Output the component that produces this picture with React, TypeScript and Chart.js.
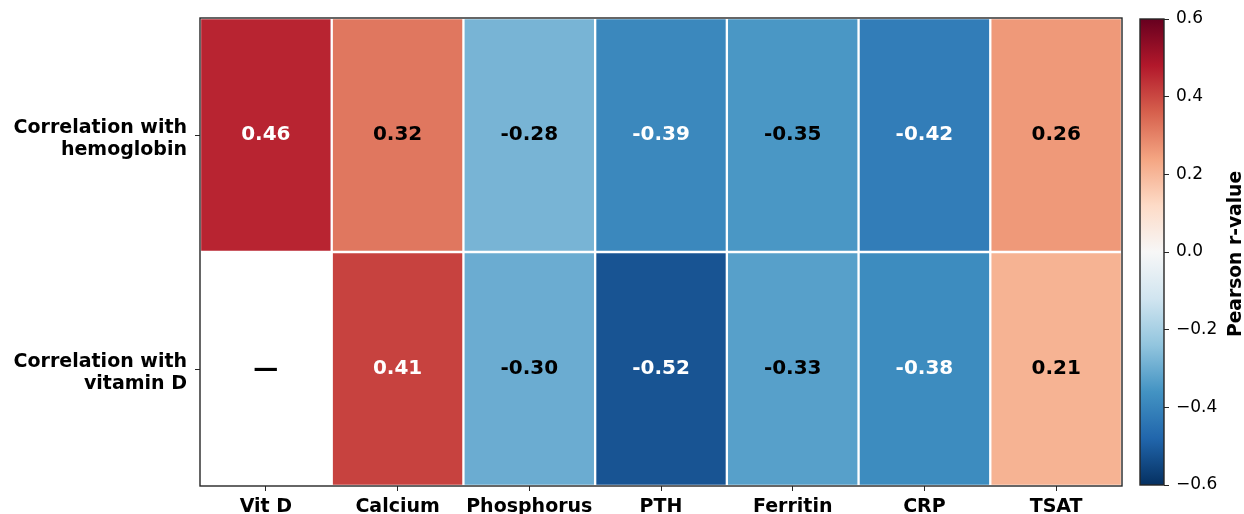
import React, { useEffect, useRef } from 'react';
import { Chart, registerables } from 'chart.js';

Chart.register(...registerables);

// ---- data ----
const columns = ['Vit D', 'Calcium', 'Phosphorus', 'PTH', 'Ferritin', 'CRP', 'TSAT'];
const rowLabels = [
  ['Correlation with', 'hemoglobin'],
  ['Correlation with', 'vitamin D'],
];
const hemoglobinR: (number | null)[] = [0.46, 0.32, -0.28, -0.39, -0.35, -0.42, 0.26];
const vitaminDR: (number | null)[] = [null, 0.41, -0.30, -0.52, -0.33, -0.38, 0.21];
const rows = [hemoglobinR, vitaminDR];
const colorbarTicks = [-0.6, -0.4, -0.2, 0.0, 0.2, 0.4, 0.6];
const colorbarTitle = 'Pearson r-value';
const vmin = -0.6;
const vmax = 0.6;

// matplotlib RdBu control colours (red -> blue)
const RdBu = [
  [103, 0, 31],
  [178, 24, 43],
  [214, 96, 77],
  [244, 165, 130],
  [253, 219, 199],
  [247, 247, 247],
  [209, 229, 240],
  [146, 197, 222],
  [67, 147, 195],
  [33, 102, 172],
  [5, 48, 97],
];

const FONT = "'DejaVu Sans', sans-serif";

function colorFor(v: number | null): string {
  if (v == null) return 'rgba(0,0,0,0)';
  let t = (v - vmin) / (vmax - vmin);
  t = Math.max(0, Math.min(1, t));
  const p = (1 - t) * 10; // RdBu_r
  const i = Math.min(9, Math.floor(p));
  const f = p - i;
  const a = RdBu[i];
  const b = RdBu[i + 1];
  const c = a.map((x, k) => Math.round(x + (b[k] - x) * f));
  return `rgb(${c[0]},${c[1]},${c[2]})`;
}

const framePlugin = {
  id: 'frame',
  afterDraw(chart: any) {
    const { ctx, chartArea: a } = chart;
    ctx.save();
    ctx.strokeStyle = '#262626';
    ctx.lineWidth = 1.4;
    ctx.strokeRect(a.left, a.top, a.right - a.left, a.bottom - a.top);
    ctx.restore();
  },
};

const cellLabelPlugin = {
  id: 'cellLabels',
  afterDatasetsDraw(chart: any) {
    const { ctx } = chart;
    const xs = chart.scales.x;
    const ys = chart.scales.y;
    ctx.save();
    ctx.textAlign = 'center';
    ctx.textBaseline = 'middle';
    rows.forEach((row, r) => {
      row.forEach((v, i) => {
        const x = xs.getPixelForValue(i);
        const y = ys.getPixelForValue(r + 0.5);
        if (v == null) {
          ctx.font = `bold 25px ${FONT}`;
          ctx.fillStyle = '#000';
          ctx.fillText('\u2014', x, y);
        } else {
          ctx.font = `bold 20px ${FONT}`;
          ctx.fillStyle = Math.abs(v) > 0.36 ? '#ffffff' : '#000000';
          ctx.fillText(v.toFixed(2), x, y);
        }
      });
    });
    ctx.restore();
  },
};

const cbTitlePlugin = {
  id: 'cbTitle',
  afterDraw(chart: any) {
    const { ctx, chartArea: a } = chart;
    ctx.save();
    ctx.translate(106, (a.top + a.bottom) / 2 + 2);
    ctx.rotate(-Math.PI / 2);
    ctx.textAlign = 'center';
    ctx.textBaseline = 'middle';
    ctx.font = `bold 18.7px ${FONT}`;
    ctx.fillStyle = '#000';
    ctx.fillText(colorbarTitle, 0, 0);
    ctx.restore();
  },
};

const noPad = (s: any) => {
  s.paddingTop = 0;
  s.paddingBottom = 0;
  s.paddingLeft = 0;
  s.paddingRight = 0;
};

export default function App() {
  const mainRef = useRef<HTMLCanvasElement>(null);
  const cbRef = useRef<HTMLCanvasElement>(null);

  useEffect(() => {
    const main = new Chart(mainRef.current!, {
      type: 'bar',
      data: {
        labels: columns,
        datasets: rows.map((row, r) => ({
          label: rowLabels[r].join(' '),
          data: row.map((v) => (v == null ? null : [r, r + 1])) as any,
          backgroundColor: row.map(colorFor),
          borderColor: '#ffffff',
          borderWidth: 1.5,
          borderSkipped: false,
          barPercentage: 1,
          categoryPercentage: 1,
          grouped: false,
        })),
      },
      options: {
        responsive: false,
        animation: false,
        devicePixelRatio: 1,
        layout: { padding: { top: 18, right: 8, left: 0, bottom: 0 } },
        plugins: { legend: { display: false }, tooltip: { enabled: false } },
        scales: {
          x: {
            type: 'category',
            grid: { display: true, drawOnChartArea: false, drawTicks: true, tickLength: 5, color: '#262626', offset: false },
            border: { display: false },
            ticks: { font: { family: FONT, size: 19, weight: 'bold' }, color: '#000', padding: 5, maxRotation: 0, autoSkip: false },
            afterFit: (s: any) => { s.height = 28; noPad(s); },
          },
          y: {
            type: 'linear',
            min: 0,
            max: 2,
            reverse: true,
            afterBuildTicks: (s: any) => { s.ticks = [{ value: 0.5 }, { value: 1.5 }]; },
            grid: { display: true, drawOnChartArea: false, drawTicks: true, tickLength: 5, color: '#262626' },
            border: { display: false },
            ticks: {
              font: { family: FONT, size: 19, weight: 'bold', lineHeight: 1.15 },
              color: '#000',
              padding: 8,
              labelOffset: 4,
              callback: (_v: any, i: number) => rowLabels[i],
            },
            afterFit: (s: any) => { s.width = 200; noPad(s); },
          },
        },
      } as any,
      plugins: [cellLabelPlugin, framePlugin],
    });

    const cb = new Chart(cbRef.current!, {
      type: 'bar',
      data: {
        labels: ['r'],
        datasets: [
          {
            label: colorbarTitle,
            data: [[vmin, vmax]] as any,
            backgroundColor: (context: any) => {
              const chart = context.chart;
              if (!chart.chartArea) return 'rgba(0,0,0,0)';
              const ys = chart.scales.y;
              const g = chart.ctx.createLinearGradient(0, ys.getPixelForValue(vmin), 0, ys.getPixelForValue(vmax));
              for (let i = 0; i <= 10; i++) {
                const c = RdBu[10 - i];
                g.addColorStop(i / 10, `rgb(${c[0]},${c[1]},${c[2]})`);
              }
              return g;
            },
            borderWidth: 0,
            barPercentage: 1,
            categoryPercentage: 1,
          },
        ],
      },
      options: {
        responsive: false,
        animation: false,
        devicePixelRatio: 1,
        layout: { padding: { top: 19, left: 10, right: 0, bottom: 29 } },
        plugins: { legend: { display: false }, tooltip: { enabled: false } },
        scales: {
          x: { display: false },
          y: {
            position: 'right',
            min: vmin,
            max: vmax,
            afterBuildTicks: (s: any) => { s.ticks = colorbarTicks.map((v) => ({ value: v })); },
            grid: { display: true, drawOnChartArea: false, drawTicks: true, tickLength: 5, color: '#262626' },
            border: { display: false },
            ticks: {
              font: { family: FONT, size: 17 },
              color: '#000',
              padding: 7,
              callback: (v: any) => (v < -1e-9 ? '\u2212' : '') + Math.abs(v).toFixed(1),
            },
            afterFit: (s: any) => { s.width = 80; noPad(s); },
          },
        },
      } as any,
      plugins: [framePlugin, cbTitlePlugin],
    });

    return () => {
      main.destroy();
      cb.destroy();
    };
  }, []);

  return (
    <div style={{ position: 'fixed', left: 0, top: 0, width: 1244, height: 514, background: '#fff', overflow: 'hidden' }}>
      <canvas ref={mainRef} width={1130} height={514} style={{ position: 'absolute', left: 0, top: 0, width: 1130, height: 514 }} />
      <canvas ref={cbRef} width={114} height={514} style={{ position: 'absolute', left: 1130, top: 0, width: 114, height: 514 }} />
    </div>
  );
}
